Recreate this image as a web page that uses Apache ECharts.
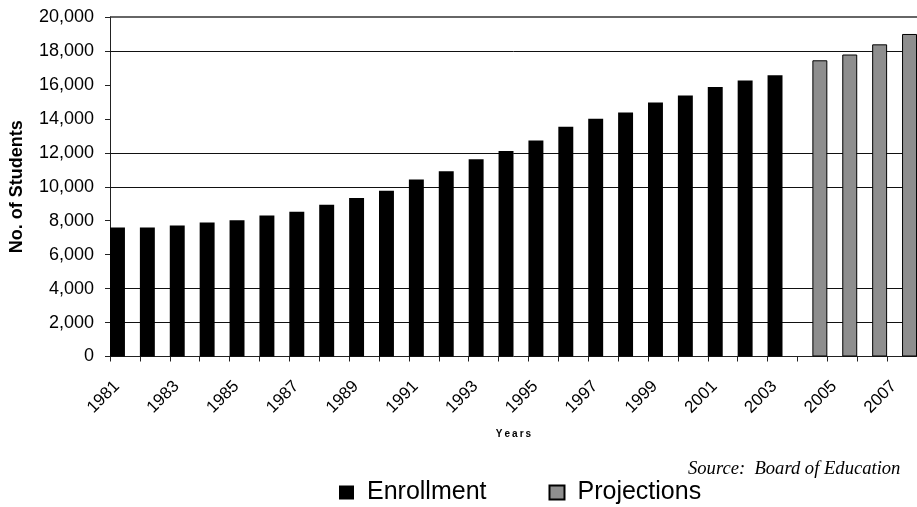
<!DOCTYPE html>
<html>
<head>
<meta charset="utf-8">
<script src="https://cdn.jsdelivr.net/npm/echarts@6/dist/echarts.min.js"></script>
<style>
  html, body { margin: 0; padding: 0; background: #fff; }
  #chart { width: 917px; height: 507px; }
</style>
</head>
<body>
<div id="chart"></div>
<script>
// School years shown on the category axis
const years = ['1981', '1982', '1983', '1984', '1985', '1986', '1987', '1988', '1989', '1990',
  '1991', '1992', '1993', '1994', '1995', '1996', '1997', '1998', '1999', '2000',
  '2001', '2002', '2003', '2004', '2005', '2006', '2007'];

// Actual enrollment (no. of students)
const enrollment = [7600, 7600, 7720, 7900, 8020, 8310, 8520, 8940, 9330, 9760,
  10430, 10920, 11620, 12100, 12720, 13530, 14000, 14370, 14960, 15370,
  15880, 16260, 16570, '-', '-', '-', '-'];

// Projected enrollment
const projections = ['-', '-', '-', '-', '-', '-', '-', '-', '-', '-',
  '-', '-', '-', '-', '-', '-', '-', '-', '-', '-',
  '-', '-', '-', 17450, 17790, 18390, 19000];

// Value axis ticks
const yTicks = [0, 2000, 4000, 6000, 8000, 10000, 12000, 14000, 16000, 18000, 20000];

// Horizontal rules that are printed across the plot (the others are left blank)
const printedRules = [2000, 4000, 10000, 12000, 18000];
const topRule = 20000;

const FONT = "'Liberation Sans', Arial, Helvetica, sans-serif";

const chart = echarts.init(document.getElementById('chart'), null, { renderer: 'canvas' });

chart.setOption({
  animation: false,
  backgroundColor: '#fff',
  grid: { left: 108, top: 17, right: -6.4, bottom: 150.5, containLabel: false },
  xAxis: {
    type: 'category',
    data: years,
    boundaryGap: true,
    name: 'Y\u2009e\u2009a\u2009r\u2009s',
    nameLocation: 'middle',
    nameGap: 73,
    nameTextStyle: { fontFamily: FONT, fontSize: 10, fontWeight: 'bold', color: '#000' },
    axisLine: { show: true, lineStyle: { color: '#222', width: 1 } },
    axisTick: { show: true, interval: 0, length: 5, alignWithLabel: false, lineStyle: { color: '#222' } },
    axisLabel: {
      interval: 1,
      rotate: 45,
      margin: 19,
      padding: [0, 11.5, 0, 0],
      fontFamily: FONT,
      fontSize: 17,
      color: '#000'
    },
    splitLine: { show: false }
  },
  yAxis: {
    type: 'value',
    min: yTicks[0],
    max: yTicks[yTicks.length - 1],
    interval: yTicks[1] - yTicks[0],
    name: 'No. of Students',
    nameLocation: 'middle',
    nameRotate: 90,
    nameGap: 84,
    nameTextStyle: { fontFamily: FONT, fontSize: 18, fontWeight: 'bold', color: '#000' },
    axisLine: { show: true, lineStyle: { color: '#222', width: 1 } },
    axisTick: { show: true, length: 5, lineStyle: { color: '#222' } },
    axisLabel: {
      margin: 16,
      fontFamily: FONT,
      fontSize: 18,
      color: '#000',
      formatter: v => v.toLocaleString('en-US')
    },
    splitLine: { show: false }
  },
  legend: {
    left: 339,
    top: 480,
    padding: 0,
    icon: 'rect',
    itemWidth: 15,
    itemHeight: 14,
    itemGap: 62,
    textStyle: { fontFamily: FONT, fontSize: 25, color: '#000', padding: [0, 0, 0, 8] },
    data: ['Enrollment', 'Projections']
  },
  series: [
    {
      name: 'Enrollment',
      type: 'bar',
      data: enrollment,
      barGap: '0%',
      barCategoryGap: '0%',
      itemStyle: { color: '#000' },
      markLine: {
        silent: true,
        z: 1,
        symbol: ['none', 'none'],
        label: { show: false },
        lineStyle: { color: '#111', type: 'solid', width: 1 },
        data: printedRules.map(v => ({ yAxis: v }))
          .concat([{ yAxis: topRule, lineStyle: { color: '#333', width: 1.5 } }])
      }
    },
    {
      name: 'Projections',
      type: 'bar',
      data: projections,
      barGap: '0%',
      barCategoryGap: '0%',
      itemStyle: { color: '#8e8e8e', borderColor: '#000', borderWidth: 1 }
    }
  ],
  graphic: [
    {
      type: 'text',
      left: 688,
      top: 460,
      style: {
        text: 'Source:  Board of Education',
        fontFamily: "'Liberation Serif', 'Times New Roman', serif",
        fontStyle: 'italic',
        fontSize: 18.6,
        fill: '#000'
      }
    }
  ]
});
</script>
</body>
</html>
